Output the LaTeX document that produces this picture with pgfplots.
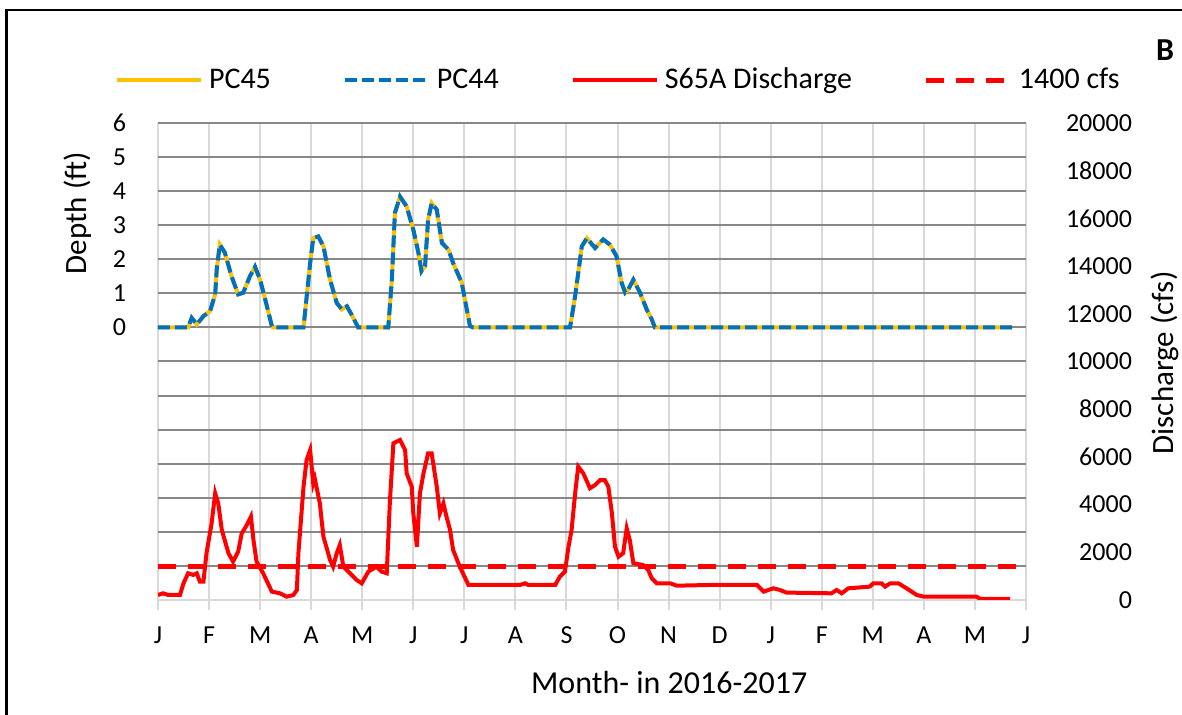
\documentclass[border=0pt]{standalone}
\usepackage{fontspec}
\setmainfont{Carlito}
\usepackage{pgfplots}
\usepackage{pgfplotstable}
\pgfplotsset{compat=1.18}
\definecolor{pcgold}{HTML}{FFC000}
\definecolor{pcblue}{HTML}{0070C0}
\definecolor{gridd}{HTML}{878787}
\definecolor{gridl}{HTML}{D9D9D9}

\pgfplotstableread{
m d
0 0
0.59 0
0.66 0.28
0.76 0.09
0.89 0.33
1.02 0.48
1.12 0.97
1.15 1.7
1.21 2.43
1.31 2.19
1.44 1.5
1.57 0.97
1.67 1.02
1.80 1.5
1.90 1.78
2.00 1.4
2.10 0.82
2.23 0.04
2.25 0
2.85 0
2.98 1.89
3.04 2.62
3.14 2.67
3.24 2.38
3.37 1.4
3.50 0.72
3.60 0.53
3.70 0.62
3.79 0.38
3.92 0
4.51 0
4.58 1.4
4.64 3.36
4.74 3.84
4.87 3.55
5.00 2.87
5.10 2.19
5.16 1.65
5.23 1.8
5.29 3.16
5.36 3.65
5.46 3.45
5.56 2.48
5.69 2.28
5.78 1.89
5.95 1.31
6.01 0.82
6.11 0.04
6.17 0
8.07 0
8.17 0.92
8.30 2.38
8.40 2.62
8.56 2.33
8.72 2.58
8.85 2.43
8.98 2.09
9.08 1.31
9.15 1.02
9.21 1.11
9.31 1.4
9.44 1.02
9.57 0.53
9.67 0.24
9.73 0
16.73 0
}\depthtable

\pgfplotstableread{
m q
0 210
0.10 280
0.20 210
0.43 210
0.50 700
0.59 1120
0.69 1050
0.76 1120
0.82 770
0.89 770
0.95 1960
1.05 3215
1.12 4475
1.18 4050
1.25 2935
1.38 1960
1.47 1610
1.57 2025
1.64 2795
1.74 3145
1.82 3495
1.87 2515
1.93 1610
2.06 1120
2.23 350
2.39 280
2.52 140
2.65 210
2.72 420
2.75 1960
2.85 4750
2.91 5870
2.98 6290
3.04 4890
3.07 5100
3.17 4050
3.24 2655
3.37 1680
3.43 1400
3.50 1960
3.56 2305
3.63 1400
3.76 1120
3.89 840
3.99 700
4.12 1190
4.28 1400
4.38 1190
4.48 1120
4.54 4050
4.61 6570
4.74 6710
4.84 6290
4.87 5310
4.97 4750
5.00 3635
5.07 2235
5.13 4475
5.20 5310
5.29 6150
5.36 6150
5.46 4750
5.52 3635
5.59 4050
5.65 3495
5.72 2935
5.78 2095
5.91 1400
6.08 630
6.31 630
7.09 630
7.19 700
7.25 630
7.78 630
7.87 980
7.97 1190
8.04 2235
8.10 2935
8.17 4475
8.23 5590
8.33 5310
8.46 4685
8.56 4820
8.66 5030
8.75 5030
8.82 4750
8.89 3635
8.95 2235
9.02 1815
9.11 1960
9.18 3005
9.24 2515
9.31 1540
9.50 1470
9.60 1260
9.67 910
9.77 700
10.03 700
10.16 600
10.81 630
11.73 630
11.86 350
12.05 490
12.18 420
12.31 310
13.19 280
13.29 420
13.39 280
13.52 490
13.94 560
14.01 700
14.17 700
14.24 560
14.34 700
14.50 700
14.66 490
14.86 210
14.99 140
16.03 140
16.10 50
16.69 50
}\qtable

\begin{document}
\begin{tikzpicture}
\useasboundingbox (-79pt,-57.5pt) rectangle (512pt,300pt);
\draw[line width=1.2pt] (-75.75pt,-57.5pt) -- (-75.75pt,295pt) -- (512pt,295pt);
\begin{axis}[
  scale only axis, width=434pt, height=238.5pt,
  xmin=0, xmax=17, ymin=-8, ymax=6,
  axis x line=bottom, axis y line=left,
  axis line style={-},
  x axis line style={draw=gridl, line width=1pt},
  y axis line style={draw=none},
  xtick={0,...,17},
  xticklabels={J,F,M,A,M,J,J,A,S,O,N,D,J,F,M,A,M,J},
  ytick={-8,...,6},
  yticklabels={,,,,,,,,0,1,2,3,4,5,6},
  grid=major,
  x grid style={draw=gridl, line width=1pt},
  y grid style={draw=gridd, line width=1pt},
  tick align=outside,
  major tick length=5pt,
  x tick style={draw=gridl, line width=1pt},
  y tick style={draw=none},
  ticklabel style={font=\fontsize{13}{15}\selectfont},
  xticklabel style={yshift=-5pt},
  yticklabel style={xshift=-7.5pt},
  ylabel={Depth (ft)},
  ylabel style={at={(axis description cs:-0.093,0.811)}, anchor=center, rotate=0, font=\fontsize{15.5}{18}\selectfont},
  xlabel={Month- in 2016-2017},
  xlabel style={at={(axis description cs:0.589,-0.174)}, anchor=center, font=\fontsize{16}{18}\selectfont},
]
\addplot[pcgold, line width=2pt, no marks] table[x=m, y=d] {\depthtable};
\addplot[pcblue, line width=2pt, no marks, dash pattern=on 6pt off 2.5pt] table[x=m, y=d] {\depthtable};
\end{axis}
\begin{axis}[
  scale only axis, width=434pt, height=238.5pt,
  xmin=0, xmax=17, ymin=0, ymax=20000,
  axis x line=none, axis y line*=right,
  axis line style={-},
  y axis line style={draw=none},
  ytick={0,2000,...,20000},
  scaled y ticks=false,
  major tick length=0pt,
  y tick style={draw=none},
  /pgf/number format/1000 sep={},
  /pgf/number format/assume math mode=true,
  ticklabel style={font=\fontsize{13}{15}\selectfont},
  yticklabel style={anchor=east, xshift=56.5pt},
  ylabel={Discharge (cfs)},
  ylabel style={at={(axis description cs:1.160,0.497)}, anchor=center, rotate=0, font=\fontsize{15.5}{18}\selectfont},
  legend columns=4,
  legend style={draw=none, fill=none, inner sep=0pt, outer sep=0pt,
    at={(axis description cs:-0.0495,1.09)}, anchor=west,
    font=\fontsize{15}{17}\selectfont,
    nodes={inner sep=1pt},
    /tikz/every odd column/.append style={column sep=2pt},
    /tikz/every even column/.append style={column sep=35pt}},
  legend image code/.code={\draw[#1] (0pt,0pt) -- (42pt,0pt);},
]
\addlegendimage{pcgold, line width=2pt}
\addlegendentry{PC45}
\addlegendimage{pcblue, line width=2pt, dash pattern=on 6pt off 2.5pt}
\addlegendentry{PC44}
\addplot[red, line width=2pt, no marks] table[x=m, y=q] {\qtable};
\addlegendentry{S65A Discharge}
\addplot[red, line width=2.5pt, no marks, dash pattern=on 9pt off 6pt] coordinates {(0,1400) (17,1400)};
\addlegendentry{1400 cfs}
\end{axis}
\node[font=\bfseries\fontsize{16}{18}\selectfont] at (503.5pt,275pt) {B};
\end{tikzpicture}
\end{document}
